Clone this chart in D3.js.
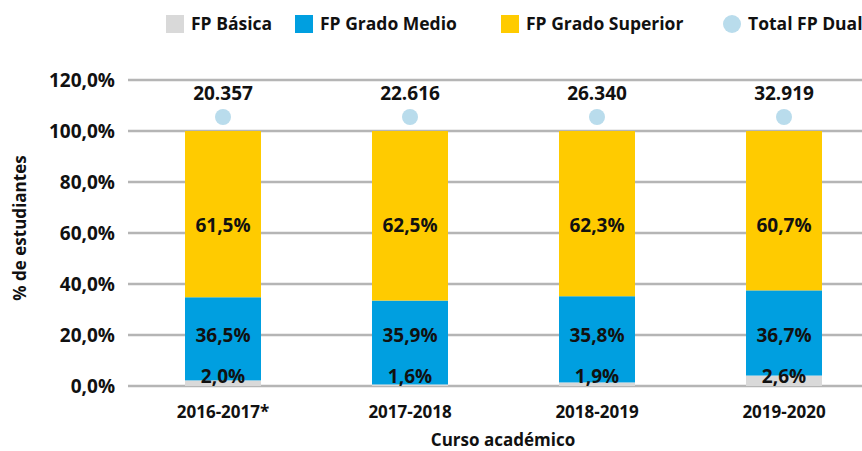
<!DOCTYPE html>
<html lang="es">
<head>
<meta charset="UTF-8">
<title>FP Dual</title>
<style>
  body { margin: 0; background: #fff; }
  text { font-family: "Open Sans", sans-serif; font-weight: 700; fill: #111; }
</style>
</head>
<body>
<div id="chart"></div>
<script src="https://cdn.jsdelivr.net/npm/d3@7"></script>
<script>
    // data
    var cursos = ["2016-2017*", "2017-2018", "2018-2019", "2019-2020"];
    // printed labels (%)
    var basicaLbl = [2.0, 1.6, 1.9, 2.6];
    var medioLbl = [36.5, 35.9, 35.8, 36.7];
    var superiorLbl = [61.5, 62.5, 62.3, 60.7];
    // drawn heights as they appear in the chart (%)
    var basica = [2.2, 0.6, 1.4, 4.1];
    var medio = [32.6, 32.9, 33.8, 33.4];
    var superior = [65.2, 66.5, 64.8, 62.5];
    var totalDual = [20357, 22616, 26340, 32919];
    var yTicks = [0, 20, 40, 60, 80, 100, 120];

    var colors = {basica: "#d9d9d9", medio: "#009fe0", superior: "#ffcb00", dual: "#b9dcec"};

    var W = 862, H = 451;
    var svg = d3.select("#chart").append("svg")
        .attr("width", W).attr("height", H);

    var x = d3.scalePoint().domain(cursos).range([223, 784]);
    var y = d3.scaleLinear().domain([0, 120]).range([386, 80]);
    var barW = 76;

    var fmtPct = function (v) { return d3.format(".1f")(v).replace(".", ",") + "%"; };
    var fmtInt = function (v) { return d3.format(",")(v).replace(/,/g, "."); };

    // grid lines
    svg.append("g").selectAll("line")
        .data(yTicks).enter().append("line")
        .attr("x1", 128).attr("x2", W)
        .attr("y1", function (d) { return y(d); })
        .attr("y2", function (d) { return y(d); })
        .attr("stroke", "#b5b5b5").attr("stroke-width", 2.5);

    // y tick labels
    svg.append("g").selectAll("text")
        .data(yTicks).enter().append("text")
        .attr("x", 115)
        .attr("y", function (d) { return y(d); })
        .attr("dy", "0.35em")
        .attr("text-anchor", "end")
        .style("font-size", "19px")
        .text(fmtPct);

    // stacked bars
    var rows = cursos.map(function (c, i) {
        return {curso: c, basica: basica[i], medio: medio[i], superior: superior[i]};
    });
    var keys = ["basica", "medio", "superior"];
    var stack = d3.stack().keys(keys)(rows);

    svg.append("g").selectAll("g")
        .data(stack).enter().append("g")
        .attr("fill", function (d) { return colors[d.key]; })
        .selectAll("rect")
        .data(function (d) { return d; }).enter().append("rect")
        .attr("x", function (d) { return x(d.data.curso) - barW / 2; })
        .attr("y", function (d) { return y(d[1]); })
        .attr("width", barW)
        .attr("height", function (d) { return y(d[0]) - y(d[1]); });

    // segment labels
    var labelSets = [
        {vals: basicaLbl, at: 0, dy: -3},
        {vals: medioLbl, at: 20, dy: 7},
        {vals: superiorLbl, at: 63, dy: 7}
    ];
    labelSets.forEach(function (s) {
        svg.append("g").selectAll("text")
            .data(s.vals).enter().append("text")
            .attr("x", function (d, i) { return x(cursos[i]); })
            .attr("y", y(s.at) + s.dy)
            .attr("text-anchor", "middle")
            .style("font-size", "19px")
            .text(fmtPct);
    });

    // total FP Dual markers
    svg.append("g").selectAll("circle")
        .data(totalDual).enter().append("circle")
        .attr("cx", function (d, i) { return x(cursos[i]); })
        .attr("cy", y(105.5))
        .attr("r", 8)
        .attr("fill", colors.dual);

    svg.append("g").selectAll("text")
        .data(totalDual).enter().append("text")
        .attr("x", function (d, i) { return x(cursos[i]); })
        .attr("y", y(112.2))
        .attr("text-anchor", "middle")
        .style("font-size", "19px")
        .text(fmtInt);

    // x axis labels
    svg.append("g").selectAll("text")
        .data(cursos).enter().append("text")
        .attr("x", function (d) { return x(d); })
        .attr("y", 418)
        .attr("text-anchor", "middle")
        .style("font-size", "17px")
        .text(function (d) { return d; });

    svg.append("text")
        .attr("x", 503).attr("y", 446)
        .attr("text-anchor", "middle")
        .style("font-size", "17px")
        .text("Curso académico");

    svg.append("text")
        .attr("transform", "translate(26,228) rotate(-90)")
        .attr("text-anchor", "middle")
        .style("font-size", "17px")
        .text("% de estudiantes");

    // legend
    var legend = [
        {name: "FP Básica", color: colors.basica, x: 166, shape: "rect"},
        {name: "FP Grado Medio", color: colors.medio, x: 295, shape: "rect"},
        {name: "FP Grado Superior", color: colors.superior, x: 501, shape: "rect"},
        {name: "Total FP Dual", color: colors.dual, x: 723, shape: "circle"}
    ];
    var lg = svg.append("g").selectAll("g")
        .data(legend).enter().append("g")
        .attr("transform", function (d) { return "translate(" + d.x + ",15)"; });
    lg.filter(function (d) { return d.shape === "rect"; }).append("rect")
        .attr("width", 18).attr("height", 18)
        .attr("fill", function (d) { return d.color; });
    lg.filter(function (d) { return d.shape === "circle"; }).append("circle")
        .attr("cx", 9).attr("cy", 9).attr("r", 9)
        .attr("fill", function (d) { return d.color; });
    lg.append("text")
        .attr("x", 25).attr("y", 9).attr("dy", "0.35em")
        .style("font-size", "17.5px")
        .text(function (d) { return d.name; });
</script>
</body>
</html>
